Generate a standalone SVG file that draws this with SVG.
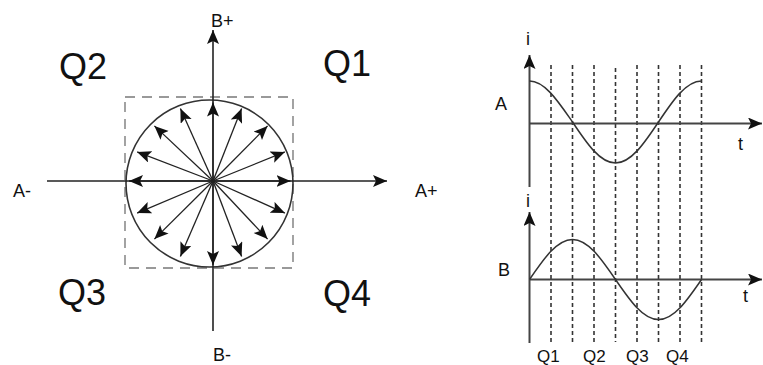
<svg xmlns="http://www.w3.org/2000/svg" width="763" height="365" viewBox="0 0 763 365">
<style>
text{font-family:"Liberation Sans",Arial,sans-serif;fill:#111}
.big{font-size:36px}
.mid{font-size:18px}
.sm{font-size:17px}
.ax{stroke:#222;stroke-width:1.6;fill:none}
.vec{stroke:#222;stroke-width:1.3;fill:none;marker-end:url(#ah)}
.gax{stroke:#444;stroke-width:2;fill:none}
.curve{stroke:#333;stroke-width:1.5;fill:none}
.dl{stroke:#333;stroke-width:1.6;stroke-dasharray:4 3;fill:none}
</style>
<defs>
<marker id="ah" markerUnits="userSpaceOnUse" markerWidth="15" markerHeight="13" refX="14" refY="6" orient="auto" viewBox="0 0 15 13">
<path d="M0,0 L14,6 L0,12 L3,6 Z" fill="#111"/>
</marker>
</defs>

<g id="square">
<rect x="125" y="97" width="168" height="171" fill="none" stroke="#999" stroke-width="1.8" stroke-dasharray="10 7"/>
</g>
<g id="circle">
<circle cx="209.5" cy="183.5" r="83.5" fill="none" stroke="#333" stroke-width="1.6"/>
</g>

<g id="connectors">
<g id="axes">
<line class="ax" x1="47" y1="181" x2="387" y2="181" marker-end="url(#ah)"/>
<line class="ax" x1="213" y1="331" x2="213" y2="30" marker-end="url(#ah)"/>
</g>
<g id="vectors">
<line class="vec" x1="213" y1="181" x2="290.5" y2="181"/>
<line class="vec" x1="213" y1="181" x2="284.9" y2="213.1"/>
<line class="vec" x1="213" y1="181" x2="267.6" y2="239.1"/>
<line class="vec" x1="213" y1="181" x2="241.6" y2="256.4"/>
<line class="vec" x1="213" y1="181" x2="213" y2="265"/>
<line class="vec" x1="213" y1="181" x2="180.4" y2="256.4"/>
<line class="vec" x1="213" y1="181" x2="154.4" y2="239.1"/>
<line class="vec" x1="213" y1="181" x2="137.1" y2="213.1"/>
<line class="vec" x1="213" y1="181" x2="129" y2="181"/>
<line class="vec" x1="213" y1="181" x2="137.1" y2="151.9"/>
<line class="vec" x1="213" y1="181" x2="154.4" y2="125.9"/>
<line class="vec" x1="213" y1="181" x2="180.4" y2="108.6"/>
<line class="vec" x1="213" y1="181" x2="213" y2="102.5"/>
<line class="vec" x1="213" y1="181" x2="241.6" y2="108.6"/>
<line class="vec" x1="213" y1="181" x2="267.6" y2="125.9"/>
<line class="vec" x1="213" y1="181" x2="284.9" y2="151.9"/>
</g>
</g>

<g id="left-labels">
<text class="mid" x="211" y="27">B+</text>
<text class="mid" x="213" y="361">B-</text>
<text class="mid" x="13" y="197">A-</text>
<text class="mid" x="415" y="197">A+</text>
<text class="big" x="59" y="79">Q2</text>
<text class="big" x="323" y="76">Q1</text>
<text class="big" x="58" y="305">Q3</text>
<text class="big" x="323" y="306">Q4</text>
</g>

<g id="dashed-lines">
<line class="dl" x1="551" y1="65" x2="551" y2="342"/>
<line class="dl" x1="572.5" y1="65" x2="572.5" y2="342"/>
<line class="dl" x1="594" y1="65" x2="594" y2="342"/>
<line class="dl" x1="615.5" y1="68" x2="615.5" y2="342"/>
<line class="dl" x1="637" y1="65" x2="637" y2="342"/>
<line class="dl" x1="658.5" y1="65" x2="658.5" y2="342"/>
<line class="dl" x1="680" y1="65" x2="680" y2="342"/>
<line class="dl" x1="701.5" y1="65" x2="701.5" y2="342"/>
</g>

<g id="graph-A">
<line class="gax" x1="529.5" y1="187" x2="529.5" y2="55" marker-end="url(#ah)"/>
<line class="gax" x1="529.5" y1="123.5" x2="762" y2="123.5" marker-end="url(#ah)"/>
<path class="curve" d="M529.5,81 C545.07,81 558.48,102 572.5,122 C586.52,143 599.930,163 615.5,163 C631.07,163 644.48,143 658.5,122 C672.52,101 685.93,81 701.5,81"/>
<text class="mid" x="526" y="45">i</text>
<text class="mid" x="495" y="110">A</text>
<text class="mid" x="738" y="150">t</text>
</g>

<g id="graph-B">
<line class="gax" x1="529.5" y1="343" x2="529.5" y2="212" marker-end="url(#ah)"/>
<line class="gax" x1="529.5" y1="279.5" x2="762" y2="279.5" marker-end="url(#ah)"/>
<path class="curve" d="M529.5,279.5 C543.52,259.01 556.93,239.5 572.5,239.5 C588.07,239.5 601.48,259.01 615.5,279.5 C629.52,299.99 642.93,319.5 658.5,319.5 C674.07,319.5 687.48,299.99 701.5,279.5"/>
<text class="mid" x="526" y="207">i</text>
<text class="mid" x="498" y="276">B</text>
<text class="mid" x="743" y="302">t</text>
</g>

<g id="time-labels">
<text class="sm" x="537" y="362">Q1</text>
<text class="sm" x="583" y="362">Q2</text>
<text class="sm" x="626" y="362">Q3</text>
<text class="sm" x="666" y="362">Q4</text>
</g>
</svg>
